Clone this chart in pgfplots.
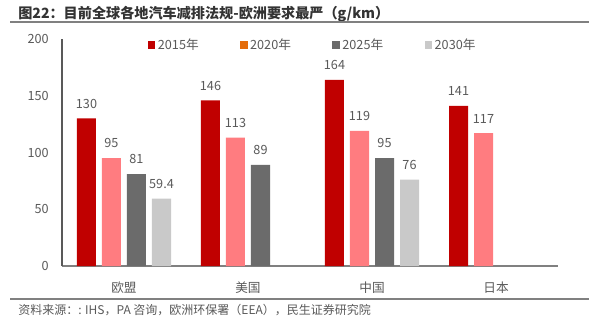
\documentclass[border=0pt]{standalone}
\usepackage{fontspec}
\setmainfont{Noto Sans CJK SC}
\usepackage{pgfplots}
\pgfplotsset{compat=1.18}
\definecolor{cA}{HTML}{C00000}
\definecolor{cB}{HTML}{FF7C80}
\definecolor{cBleg}{HTML}{E46C0A}
\definecolor{cC}{HTML}{6B6B6B}
\definecolor{cD}{HTML}{C9C9C9}
\definecolor{txt}{HTML}{595959}
\begin{document}
\begin{tikzpicture}
\useasboundingbox (0,0) rectangle (450pt,241.5pt);
\node[anchor=west, font=\bfseries\fontsize{10.6pt}{12pt}\selectfont, text=black!80, inner sep=0] at (13.5pt,231pt) {图22：目前全球各地汽车减排法规-欧洲要求最严（g/km）};
\draw[gray, line width=1pt] (7.5pt,225pt) -- (442pt,225pt);
\draw[gray, line width=1pt] (7.5pt,17.25pt) -- (442pt,17.25pt);
\node[anchor=west, font=\fontsize{9pt}{10pt}\selectfont, text=txt, inner sep=0] at (13.5pt,9pt) {资料来源：: IHS，PA 咨询，欧洲环保署（EEA），民生证券研究院};
\begin{axis}[at={(46.5pt,42pt)}, anchor=south west, scale only axis,
  width=372pt, height=170.25pt,
  xmin=-0.5, xmax=3.5, ymin=0, ymax=200,
  ybar=4.5pt, bar width=14.25pt,
  axis x line=bottom, axis y line=left,
  x axis line style={-, draw=gray, line width=1.2pt},
  y axis line style={-, draw=txt, line width=0.8pt},
  xtick={0,1,2,3}, xticklabels={欧盟,美国,中国,日本},
  ytick={0,50,100,150,200},
  major tick length=0pt,
  tick label style={font=\fontsize{9.5pt}{11pt}\selectfont, text=txt},
  xticklabel style={yshift=-8pt},
  yticklabel style={xshift=-6.5pt},
  /pgf/number format/assume math mode=true,
  nodes near coords,
  every node near coord/.append style={font=\fontsize{9.5pt}{11pt}\selectfont, text=txt, yshift=4pt},
  legend columns=4,
  legend style={at={(0.506,0.974)}, anchor=center, draw=none, fill=none,
    font=\fontsize{9.5pt}{11pt}\selectfont, text=txt,
    /tikz/every even column/.append style={column sep=29pt}},
]
\addplot[fill=cA, draw=none, legend image code/.code={\fill[cA] (0pt,-2.8pt) rectangle (5.6pt,2.8pt);}]
  coordinates {(0,130) (1,146) (2,164) (3,141)};
\addplot[fill=cB, draw=none, legend image code/.code={\fill[cBleg] (0pt,-2.8pt) rectangle (5.6pt,2.8pt);}]
  coordinates {(0,95) (1,113) (2,119) (3,117)};
\addplot[fill=cC, draw=none, legend image code/.code={\fill[cC] (0pt,-2.8pt) rectangle (5.6pt,2.8pt);}]
  coordinates {(0,81) (1,89) (2,95)};
\addplot[fill=cD, draw=none, legend image code/.code={\fill[cD] (0pt,-2.8pt) rectangle (5.6pt,2.8pt);}]
  coordinates {(0,59.4) (2,76)};
\legend{2015年,2020年,2025年,2030年}
\end{axis}
\end{tikzpicture}
\end{document}
